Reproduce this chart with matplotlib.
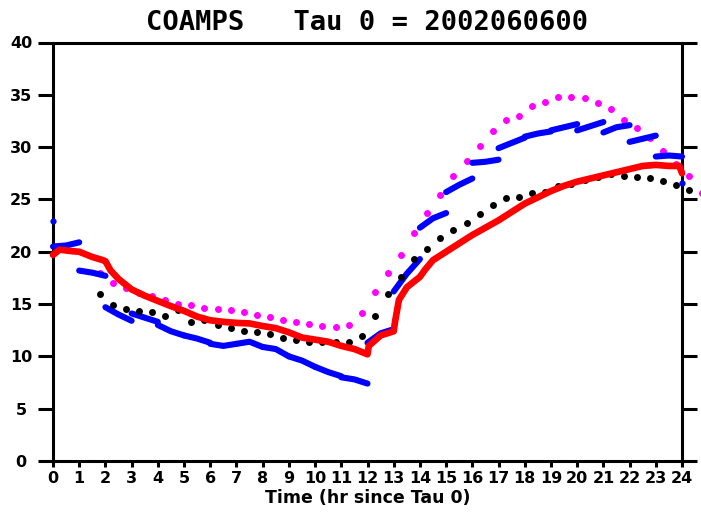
import matplotlib
matplotlib.use("Agg")
import matplotlib.pyplot as plt

# hourly forecast pieces (blue), each one drawn from hour h to h+1
blue_start = [0, 1, 2, 3, 4, 5, 6, 7, 8, 9, 10, 11,
              12, 13, 14, 15, 16, 17, 18, 19, 20, 21, 22, 23]
blue_pieces = [
    [20.5, 20.6, 20.9], [18.2, 18.0, 17.7], [14.7, 14.0, 13.4], [14.1, 13.7, 13.3],
    [13.0, 12.4, 12.0], [12.0, 11.7, 11.3], [11.2, 11.0, 11.2], [11.2, 11.4, 10.9],
    [10.9, 10.7, 10.0], [10.0, 9.6, 9.0], [9.0, 8.5, 8.1], [8.0, 7.8, 7.4],
    [11.3, 12.2, 12.6], [16.2, 17.9, 19.3], [22.3, 23.2, 23.7], [25.7, 26.4, 27.0],
    [28.5, 28.6, 28.8], [29.9, 30.4, 30.9], [31.0, 31.3, 31.5], [31.6, 31.9, 32.2],
    [31.6, 32.0, 32.4], [31.4, 31.9, 32.1], [30.5, 30.8, 31.1], [29.1, 29.2, 29.1],
]
blue_dot_hours = [0, 24]
blue_dot_vals = [22.9, 26.6]

red_hours = [0, 0.25, 0.75, 1.0, 1.5, 1.9, 2.0, 2.2, 2.5, 3.0, 3.5, 4.0, 4.5, 5.0,
             5.5, 6.0, 6.5, 7.0, 7.5, 8.0, 8.5, 9.0, 9.5, 10.0, 10.5, 11.0, 11.5,
             12.0, 12.05, 12.5, 13.0, 13.05, 13.2, 13.5, 14.0, 14.2, 14.5, 15.0,
             15.5, 16.0, 16.5, 17.0, 17.5, 18.0, 18.5, 19.0, 19.5, 20.0, 20.5,
             21.0, 21.5, 22.0, 22.5, 23.0, 23.5, 23.9, 24.0]
red_vals = [19.7, 20.2, 20.05, 20.0, 19.5, 19.2, 19.1, 18.2, 17.4, 16.4, 15.8, 15.3,
            14.8, 14.35, 13.8, 13.45, 13.3, 13.2, 13.15, 12.9, 12.7, 12.3, 11.8,
            11.6, 11.4, 11.0, 10.7, 10.2, 11.0, 12.0, 12.4, 13.3, 15.4, 16.6, 17.6,
            18.3, 19.2, 20.0, 20.8, 21.6, 22.3, 23.0, 23.8, 24.6, 25.2, 25.8, 26.3,
            26.7, 27.0, 27.3, 27.6, 27.9, 28.2, 28.3, 28.2, 28.2, 27.5]

dot_hours = [1.78, 2.28, 2.78, 3.28, 3.78, 4.28, 4.78, 5.28, 5.78, 6.28, 6.78, 7.28,
             7.78, 8.28, 8.78, 9.28, 9.78, 10.28, 10.78, 11.28, 11.78, 12.28, 12.78,
             13.28, 13.78, 14.28, 14.78, 15.28, 15.78, 16.28, 16.78, 17.28, 17.78,
             18.28, 18.78, 19.28, 19.78, 20.28, 20.78, 21.28, 21.78, 22.28, 22.78,
             23.28, 23.78, 24.28, 24.78]
magenta_vals = [18.0, 17.0, 16.55, 16.1, 15.75, 15.4, 15.05, 14.9, 14.65, 14.5, 14.4,
                14.2, 14.0, 13.8, 13.5, 13.3, 13.1, 12.9, 12.8, 13.0, 14.1, 16.2, 18.0,
                19.7, 21.8, 23.7, 25.4, 27.2, 28.65, 30.1, 31.5, 32.6, 32.95, 33.9,
                34.3, 34.8, 34.8, 34.7, 34.2, 33.6, 32.6, 31.8, 30.9, 29.6, 28.4,
                27.2, 25.6]
black_vals = [16.0, 14.9, 14.5, 14.3, 14.2, 13.9, 14.4, 13.25, 13.45, 13.0, 12.7,
              12.45, 12.35, 12.1, 11.75, 11.55, 11.4, 11.4, 11.4, 11.4, 11.95, 13.9,
              15.95, 17.55, 19.3, 20.3, 21.35, 22.1, 22.75, 23.6, 24.45, 25.1, 25.25,
              25.6, 25.7, 26.3, 26.45, 26.9, 27.1, 27.4, 27.2, 27.1, 27.05, 26.8,
              26.4, 25.9]

x_ticks = list(range(0, 25))
y_ticks = [0, 5, 10, 15, 20, 25, 30, 35, 40]

fig = plt.figure(figsize=(7.01, 5.17), dpi=100)
ax = fig.add_axes([53 / 701, 1 - 461 / 517, 629 / 701, 418.5 / 517])

ax.plot(dot_hours, magenta_vals, linestyle="none", marker="o", ms=5,
        color="#ff00ff", mec="none", clip_on=False, zorder=2)
for h, piece in zip(blue_start, blue_pieces):
    ax.plot([h, h + 0.5, h + 1], piece, color="#0000ff", lw=4.4,
            solid_capstyle="round", clip_on=False, zorder=3)
ax.plot(blue_dot_hours, blue_dot_vals, linestyle="none", marker="o", ms=4.5,
        color="#0000ff", mec="none", clip_on=False, zorder=3)
ax.plot(dot_hours[:len(black_vals)], black_vals, linestyle="none", marker="o",
        ms=5, color="black", mec="none", clip_on=False, zorder=4)
ax.plot(red_hours, red_vals, color="#ff0000", lw=4.8, solid_capstyle="round",
        solid_joinstyle="round", clip_on=False, zorder=5)

ax.set_xlim(0, 24)
ax.set_ylim(0, 40)
ax.set_xticks(x_ticks)
ax.set_yticks(y_ticks)
for s in ax.spines.values():
    s.set_linewidth(2.2)

tick_font = {"family": "DejaVu Sans", "weight": "bold", "size": 11.5}
ax.set_xticklabels([str(t) for t in x_ticks], fontdict=tick_font)
ax.set_yticklabels([str(t) for t in y_ticks], fontdict=tick_font)
for lab in ax.get_yticklabels():
    lab.set_horizontalalignment("center")

ax.tick_params(axis="x", direction="out", length=4, width=2.2, pad=3.5)
ax.tick_params(axis="y", direction="out", length=11, width=2.2, pad=12,
               right=True, labelright=False)

ax.set_xlabel("Time (hr since Tau 0)", family="DejaVu Sans", weight="bold",
              size=12.5, labelpad=2)
ax.set_title("COAMPS   Tau 0 = 2002060600", family="DejaVu Sans Mono",
             weight="bold", size=19.5, pad=9)

fig.savefig("out.png", dpi=100)
